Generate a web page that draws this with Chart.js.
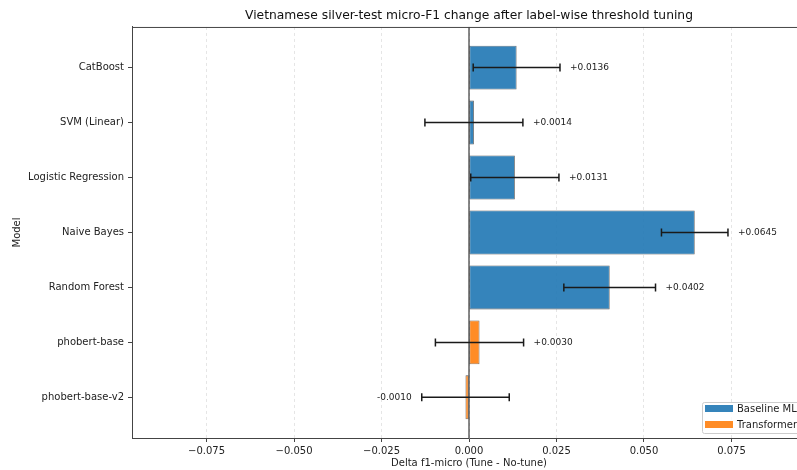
<!DOCTYPE html>
<html><head><meta charset="utf-8">
<script src="https://cdn.jsdelivr.net/npm/chart.js@4"></script>
<style>html,body{margin:0;padding:0;overflow:hidden;background:#fff}canvas{display:block}</style>
</head><body>
<canvas id="c" width="830" height="470"></canvas>
<script>
const models = ['CatBoost','SVM (Linear)','Logistic Regression','Naive Bayes','Random Forest','phobert-base','phobert-base-v2'];
const deltas = [0.0136, 0.0014, 0.0131, 0.0645, 0.0402, 0.0030, -0.0010];
const errors = [0.0124, 0.0140, 0.0126, 0.0095, 0.0131, 0.0126, 0.0125];
const groups = [0, 0, 0, 0, 0, 1, 1];
const groupNames = ['Baseline ML', 'Transformer'];
const groupColors = ['rgba(31,119,180,0.9)', 'rgba(255,127,14,0.9)'];
const xTicks = [-0.075, -0.05, -0.025, 0, 0.025, 0.05, 0.075];
const xTickLabels = ['\u22120.075', '\u22120.050', '\u22120.025', '0.000', '0.025', '0.050', '0.075'];
const valueLabels = deltas.map(v => (v >= 0 ? '+' : '') + v.toFixed(4));

Chart.defaults.font.family = "'DejaVu Sans', sans-serif";
Chart.defaults.color = '#222';

const overlay = {
  id: 'overlay',
  afterDatasetsDraw(chart) {
    const {ctx, scales: {x, y}, chartArea: a} = chart;
    ctx.save();
    const x0 = x.getPixelForValue(0);
    ctx.strokeStyle = '#111'; ctx.lineWidth = 1;
    ctx.beginPath(); ctx.moveTo(x0, a.top); ctx.lineTo(x0, a.bottom); ctx.stroke();
    ctx.font = "9px 'DejaVu Sans'";
    ctx.textBaseline = 'middle';
    deltas.forEach((v, i) => {
      const yy = y.getPixelForValue(i);
      const xl = x.getPixelForValue(v - errors[i]);
      const xr = x.getPixelForValue(v + errors[i]);
      ctx.strokeStyle = '#1a1a1a'; ctx.lineWidth = 1.5;
      ctx.beginPath();
      ctx.moveTo(xl, yy); ctx.lineTo(xr, yy);
      ctx.moveTo(xl, yy - 4); ctx.lineTo(xl, yy + 4);
      ctx.moveTo(xr, yy - 4); ctx.lineTo(xr, yy + 4);
      ctx.stroke();
      ctx.fillStyle = '#222';
      if (v >= 0) { ctx.textAlign = 'left'; ctx.fillText(valueLabels[i], xr + 10, yy); }
      else { ctx.textAlign = 'right'; ctx.fillText(valueLabels[i], xl - 10, yy); }
    });
    ctx.strokeStyle = '#444'; ctx.lineWidth = 1;
    ctx.beginPath();
    ctx.moveTo(a.left, a.top + 0.5); ctx.lineTo(a.right, a.top + 0.5);
    ctx.moveTo(a.right - 0.5, a.top); ctx.lineTo(a.right - 0.5, a.bottom);
    ctx.stroke();
    const lx = a.right - 104, ly = a.bottom - 36, lw = 99, lh = 31;
    ctx.fillStyle = 'rgba(255,255,255,0.8)';
    ctx.strokeStyle = '#cccccc'; ctx.lineWidth = 1;
    ctx.beginPath(); ctx.roundRect(lx + 0.5, ly + 0.5, lw, lh, 2); ctx.fill(); ctx.stroke();
    ctx.font = "10px 'DejaVu Sans'";
    ctx.textAlign = 'left';
    groupNames.forEach((g, k) => {
      const py = ly + 3 + k * 16;
      ctx.fillStyle = groupColors[k];
      ctx.fillRect(lx + 3, py, 28, 7);
      ctx.fillStyle = '#222';
      ctx.fillText(g, lx + 35, py + 4);
    });
    ctx.restore();
  }
};

new Chart(document.getElementById('c'), {
  type: 'bar',
  data: {
    datasets: [{
      label: 'Delta',
      data: deltas.map((v, i) => ({x: v, y: i})),
      backgroundColor: groups.map(g => groupColors[g]),
      borderColor: 'rgba(30,30,30,0.75)',
      borderWidth: 0.8,
      borderSkipped: false,
      categoryPercentage: 1,
      barPercentage: 0.8
    }]
  },
  options: {
    indexAxis: 'y',
    responsive: false,
    animation: false,
    layout: {padding: {left: 0, right: 24, top: 0, bottom: 0}},
    plugins: {
      legend: {display: false},
      tooltip: {enabled: false},
      title: {
        display: true,
        fullSize: false,
        text: 'Vietnamese silver-test micro-F1 change after label-wise threshold tuning',
        font: {size: 12.3, weight: 'normal', lineHeight: 1.2},
        color: '#111',
        padding: {top: 8, bottom: 4.2}
      }
    },
    scales: {
      x: {
        type: 'linear',
        min: -0.0963, max: 0.0963,
        afterBuildTicks: s => { s.ticks = xTicks.map(v => ({value: v})); },
        afterFit: s => { s.height = 32; },
        ticks: {callback: (v, i) => xTickLabels[i], font: {size: 10}, color: '#222', padding: 3, maxRotation: 0, autoSkip: false},
        grid: {color: 'rgba(0,0,0,0.13)', lineWidth: 0.8, tickLength: 4, tickColor: '#444', tickWidth: 1},
        border: {color: '#444', width: 1, dash: [3, 3]},
        title: {display: true, text: 'Delta f1-micro (Tune - No-tune)', font: {size: 10}, color: '#222', padding: {top: 0, bottom: 1}}
      },
      y: {
        type: 'linear',
        min: -0.74, max: 6.74,
        reverse: true,
        offset: false,
        afterBuildTicks: s => { s.ticks = models.map((_, i) => ({value: i})); },
        afterFit: s => { s.width = 132; },
        ticks: {callback: v => models[v], font: {size: 10}, color: '#222', padding: 4, autoSkip: false},
        grid: {offset: false, drawOnChartArea: false, tickLength: 4, tickColor: '#444', tickWidth: 1},
        border: {color: '#444', width: 1},
        title: {display: true, text: 'Model', font: {size: 10}, color: '#222', padding: {top: 11, bottom: 0}}
      }
    }
  },
  plugins: [overlay]
});
</script>
</body></html>
